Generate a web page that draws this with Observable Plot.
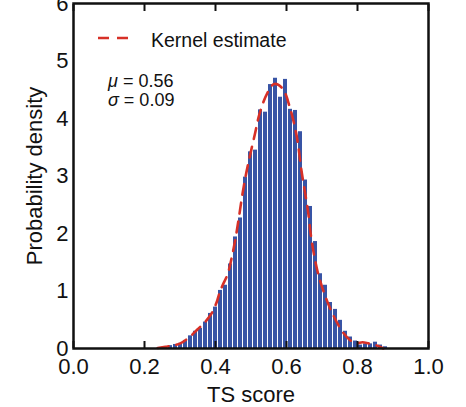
<!DOCTYPE html>
<html>
<head>
<meta charset="utf-8">
<script src="https://cdn.jsdelivr.net/npm/d3@7"></script>
<script src="https://cdn.jsdelivr.net/npm/@observablehq/plot@0.6"></script>
<style>
  html, body { margin: 0; padding: 0; background: white; }
  #wrap { position: relative; width: 466px; height: 407px; overflow: hidden; }
  #overlay { position: absolute; left: 0; top: 0; pointer-events: none; }
</style>
</head>
<body>
<div id="wrap"></div>
<script>
// Histogram: bins of width 1/binsPerUnit, first bin index firstBin
const binsPerUnit = 71;
const firstBin = 17;
const densities = [
  0.01, 0.02, 0.05, 0.07, 0.09, 0.14, 0.22, 0.30, 0.35,
  0.46, 0.61, 0.72, 1.01, 1.10, 1.47, 1.94, 2.27,
  2.98, 3.42, 3.45, 4.15, 4.11, 4.59, 4.70, 4.37, 4.68, 4.16, 4.14, 3.77,
  2.93, 2.47, 1.86, 1.30, 1.10, 0.80, 0.68, 0.49, 0.30, 0.20, 0.13, 0.06, 0.08, 0.08, 0.11, 0.06, 0.03
];
// Kernel density estimate
const kdeX = [0.237,0.259,0.279,0.301,0.327,0.349,0.369,0.389,0.403,0.411,0.420,0.434,0.448,0.456,0.466,0.475,0.485,0.497,0.511,0.524,0.545,0.566,0.589,0.610,0.627,0.634,0.642,0.652,0.661,0.668,0.677,0.690,0.708,0.730,0.759,0.780,0.797,0.814,0.831,0.851,0.873];
const kdeY = [0.01,0.03,0.05,0.09,0.20,0.33,0.45,0.61,0.80,0.96,1.10,1.29,1.65,1.90,2.28,2.65,3.00,3.35,3.73,4.08,4.43,4.60,4.52,4.18,3.75,3.48,3.10,2.72,2.37,2.00,1.65,1.28,0.93,0.60,0.28,0.14,0.09,0.11,0.09,0.06,0.0];
const xTicks = [0.0, 0.2, 0.4, 0.6, 0.8, 1.0];
const yTicks = [0, 1, 2, 3, 4, 5, 6];
const legendLabel = "Kernel estimate";
const stats = [{sym: "μ", value: "0.56"}, {sym: "σ", value: "0.09"}];
const xLabel = "TS score";
const yLabel = "Probability density";

const bars = densities.map((d, i) => ({x1: (firstBin + i) / binsPerUnit, x2: (firstBin + i + 1) / binsPerUnit, y: d}));
const kde = kdeX.map((x, i) => ({x, y: kdeY[i]}));

const font = '"Liberation Sans", Arial, sans-serif';
const ink = "#111111";
const barColor = "#3854a5";
const kdeColor = "#d73027";
const dash = "11,8";

const chart = Plot.plot({
  width: 466,
  height: 407,
  marginLeft: 73,
  marginRight: 38,
  marginTop: 3,
  marginBottom: 59,
  style: {fontFamily: font, fontSize: "22px", color: ink, background: "white"},
  x: {domain: [0, 1]},
  y: {domain: [0, 6]},
  marks: [
    Plot.rectY(bars, {x1: "x1", x2: "x2", y: "y", fill: barColor, insetRight: 1}),
    Plot.line(kde, {x: "x", y: "y", stroke: kdeColor, strokeWidth: 2.6, strokeDasharray: dash, curve: "catmull-rom"}),
    Plot.axisX(xTicks, {anchor: "bottom", tickSize: -7, strokeWidth: 2, text: null, label: null}),
    Plot.axisX(xTicks, {anchor: "top", tickSize: -7, strokeWidth: 2, text: null, label: null}),
    Plot.axisX(xTicks, {anchor: "bottom", tickSize: 0, tickPadding: 10, tickFormat: d3.format(".1f"), fontSize: 22, label: null}),
    Plot.axisY(yTicks, {anchor: "left", tickSize: 0, tickPadding: 5, tickFormat: d3.format("d"), fontSize: 22, label: null}),
    Plot.frame({stroke: ink, strokeWidth: 2.5}),
    Plot.text([xLabel], {frameAnchor: "bottom", dy: 46, fontSize: 22, lineAnchor: "middle", textAnchor: "middle"}),
    Plot.text([yLabel], {frameAnchor: "left", dx: -39, rotate: -90, fontSize: 22, lineAnchor: "middle", textAnchor: "middle"})
  ]
});

const wrap = document.getElementById("wrap");
wrap.appendChild(chart);

// In-plot legend and statistics overlay
const ov = d3.select(wrap).append("svg").attr("id", "overlay")
  .attr("width", 466).attr("height", 407)
  .style("font-family", font);
ov.append("line").attr("x1", 98).attr("x2", 130).attr("y1", 38).attr("y2", 38)
  .attr("stroke", kdeColor).attr("stroke-width", 2.6).attr("stroke-dasharray", dash);
ov.append("text").attr("x", 151).attr("y", 47).attr("font-size", 19.5).attr("fill", ink).text(legendLabel);
stats.forEach((s, i) => {
  const t = ov.append("text").attr("x", 108).attr("y", 87 + i * 19).attr("font-size", 18).attr("fill", ink);
  t.append("tspan").attr("font-style", "italic").text(s.sym);
  t.append("tspan").text(" = " + s.value);
});
</script>
</body>
</html>
